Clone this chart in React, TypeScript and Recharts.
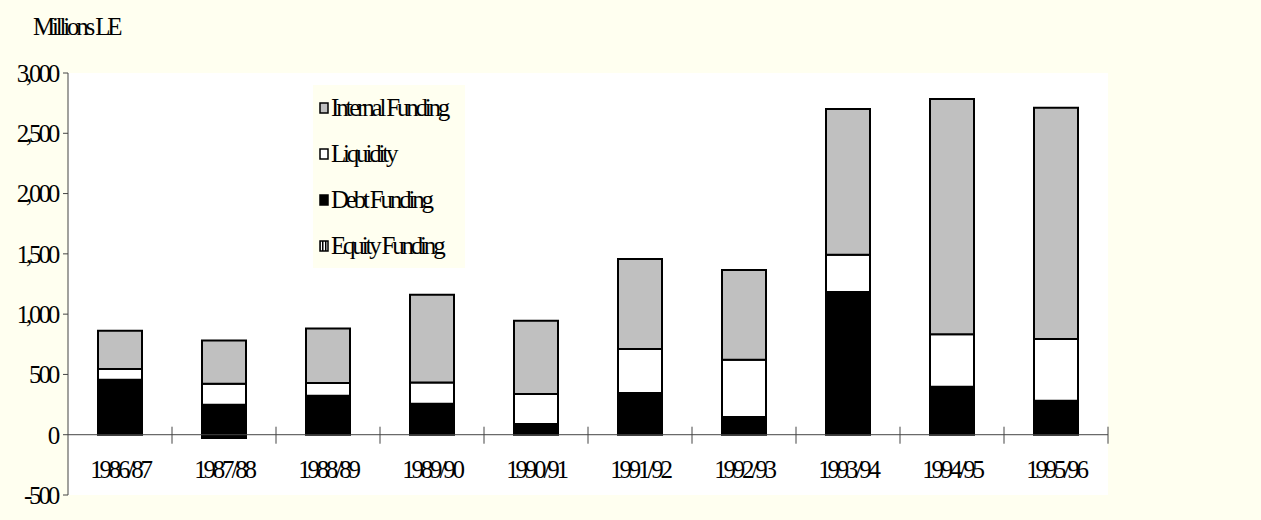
import React from "react";
import { BarChart, Bar, XAxis, YAxis, CartesianGrid, ReferenceLine, Legend } from "recharts";

const categories = ["1986/87", "1987/88", "1988/89", "1989/90", "1990/91", "1991/92", "1992/93", "1993/94", "1994/95", "1995/96"];
const equityFunding = [0, -27, 0, 0, 0, 0, 0, 0, 0, 0];
const debtFunding = [456, 276, 323, 257, 89, 345, 147, 1183, 398, 282];
const liquidity = [88, 174, 105, 177, 248, 365, 474, 309, 436, 511];
const internalFunding = [318, 359, 453, 726, 608, 748, 746, 1210, 1950, 1919];
const yTicks = [-500, 0, 500, 1000, 1500, 2000, 2500, 3000];
const legendOrder = ["Internal Funding", "Liquidity", "Debt Funding", "Equity Funding"];

const data = categories.map((year, i) => ({
  year,
  equity: equityFunding[i],
  debt: debtFunding[i],
  liquidity: liquidity[i],
  internal: internalFunding[i],
}));

const W = 1261;
const H = 520;
const M = { top: 73, right: 153, bottom: 0, left: 0 };
const Y_AXIS_W = 68;
const X_AXIS_H = 25;
const plotW = W - M.left - M.right - Y_AXIS_W;
const plotH = H - M.top - M.bottom - X_AXIS_H;
const band = plotW / categories.length;
const zeroY = M.top + (plotH * yTicks[yTicks.length - 1]) / (yTicks[yTicks.length - 1] - yTicks[0]);

const FONT = "'Liberation Serif', 'Times New Roman', serif";
const FS = 25;
const LS = -3.2;
const BG = "#FFFFF0";

function XTick(props: any) {
  const { x, payload } = props;
  const bx = x + band / 2;
  return (
    <g>
      <line x1={bx} x2={bx} y1={zeroY - 8} y2={zeroY + 9} stroke="#444" strokeWidth={1} />
      <text x={x} y={zeroY + 43} textAnchor="middle" fontFamily={FONT} fontSize={FS} letterSpacing={LS} fill="#000">
        {payload.value}
      </text>
    </g>
  );
}

function LegendBox({ payload }: any) {
  const items = [...(payload || [])].sort((a: any, b: any) => legendOrder.indexOf(a.value) - legendOrder.indexOf(b.value));
  return (
    <div style={{ background: BG, width: 152, height: 183, paddingTop: 0, boxSizing: "border-box" }}>
      {items.map((it: any) => (
        <div key={it.value} style={{ display: "flex", alignItems: "center", height: 46, paddingLeft: 6 }}>
          <svg width={11} height={12} style={{ marginRight: 1 }}>
            <rect x={1} y={1} width={8} height={10} fill={it.payload.fill} stroke="#000" strokeWidth={1.5} />
          </svg>
          <span style={{ fontFamily: FONT, fontSize: FS, letterSpacing: LS, color: "#000", whiteSpace: "nowrap" }}>{it.value}</span>
        </div>
      ))}
    </div>
  );
}

export default function App() {
  return (
    <div style={{ position: "absolute", left: 0, top: 0, width: W, height: H, background: BG }}>
      <svg width={0} height={0} style={{ position: "absolute" }}>
        <defs>
          <pattern id="equityStripes" width={3} height={4} patternUnits="userSpaceOnUse">
            <rect width={3} height={4} fill="#ffffff" />
            <rect width={1.5} height={4} fill="#000000" />
          </pattern>
        </defs>
      </svg>
      <div
        style={{
          position: "absolute",
          left: 33,
          top: 13,
          fontFamily: FONT,
          fontSize: FS,
          letterSpacing: LS,
          color: "#000",
          whiteSpace: "nowrap",
        }}
      >
        Millions LE
      </div>
      <BarChart width={W} height={H} data={data} margin={M} barSize={44}>
        <CartesianGrid horizontal={false} vertical={false} fill="#ffffff" stroke="none" />
        <XAxis
          dataKey="year"
          height={X_AXIS_H}
          axisLine={false}
          tickLine={false}
          tick={<XTick />}
          interval={0}
        />
        <YAxis
          width={Y_AXIS_W}
          domain={[yTicks[0], yTicks[yTicks.length - 1]]}
          ticks={yTicks}
          interval={0}
          tickSize={5}
          tickMargin={6}
          stroke="#444"
          tickFormatter={(v: number) => v.toLocaleString("en-US")}
          tick={{ fontFamily: FONT, fontSize: FS, letterSpacing: LS, fill: "#000" }}
        />
        <ReferenceLine y={0} stroke="#444" strokeWidth={1} />
        <Legend
          layout="vertical"
          align="center"
          verticalAlign="middle"
          wrapperStyle={{ left: 313, top: 85, width: 152 }}
          content={<LegendBox />}
        />
        <Bar dataKey="equity" name="Equity Funding" stackId="a" fill="url(#equityStripes)" stroke="#000" strokeWidth={2} isAnimationActive={false} />
        <Bar dataKey="debt" name="Debt Funding" stackId="a" fill="#000000" stroke="#000" strokeWidth={2} isAnimationActive={false} />
        <Bar dataKey="liquidity" name="Liquidity" stackId="a" fill="#ffffff" stroke="#000" strokeWidth={2} isAnimationActive={false} />
        <Bar dataKey="internal" name="Internal Funding" stackId="a" fill="#c0c0c0" stroke="#000" strokeWidth={2} isAnimationActive={false} />
      </BarChart>
    </div>
  );
}
